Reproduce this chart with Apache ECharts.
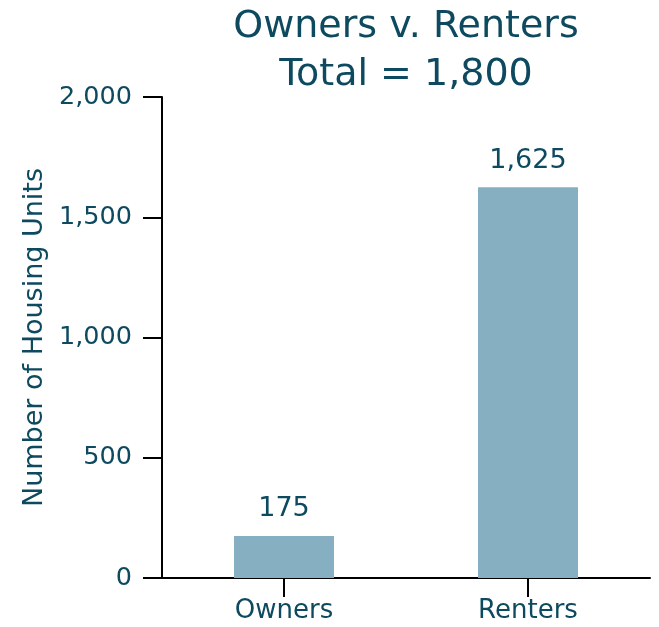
<!DOCTYPE html>
<html><head><meta charset="utf-8">
<script src="https://cdn.jsdelivr.net/npm/echarts@6/dist/echarts.min.js"></script>
<style>html,body{margin:0;padding:0;background:#fff}#c{width:659px;height:627px}</style>
</head><body><div id="c"></div>
<script>
var categories = ['Owners', 'Renters'];
var values = [175, 1625];
var titleLines = ['Owners v. Renters', 'Total = 1,800'];
var yAxisName = 'Number of Housing Units';

var FONT = '"DejaVu Sans", sans-serif';
var TXT = '#0e4a5f';
var chart = echarts.init(document.getElementById('c'), null, {renderer: 'canvas'});
chart.setOption({
  animation: false,
  backgroundColor: '#fff',
  grid: {left: 162, right: 9, top: 97, bottom: 49},
  graphic: [{
    type: 'text', x: 406, y: 3,
    style: {text: titleLines.join('\n'), textAlign: 'center', textVerticalAlign: 'top',
      font: '38px ' + FONT, fill: TXT, lineHeight: 48}
  }],
  xAxis: {
    type: 'category', data: categories,
    axisLine: {lineStyle: {color: '#000', width: 2}},
    axisTick: {show: true, alignWithLabel: true, length: 19, lineStyle: {color: '#000', width: 2}},
    axisLabel: {color: TXT, fontSize: 26, fontFamily: FONT, margin: 20}
  },
  yAxis: {
    type: 'value', min: 0, max: 2000, interval: 500,
    name: yAxisName, nameLocation: 'middle', nameRotate: 90, nameGap: 112,
    nameTextStyle: {color: TXT, fontSize: 27, fontFamily: FONT},
    axisLine: {show: true, lineStyle: {color: '#000', width: 2}},
    axisTick: {show: true, length: 19, lineStyle: {color: '#000', width: 2}},
    splitLine: {show: false},
    axisLabel: {color: TXT, fontSize: 25.5, fontFamily: FONT, margin: 30,
      formatter: function (v) { return v.toLocaleString('en-US'); }}
  },
  series: [{
    type: 'bar', data: values, barWidth: 100,
    itemStyle: {color: '#87afc2'},
    label: {show: true, position: 'top', distance: 13, color: TXT, fontSize: 27, fontFamily: FONT,
      formatter: function (p) { return p.value.toLocaleString('en-US'); }}
  }]
});
</script></body></html>
